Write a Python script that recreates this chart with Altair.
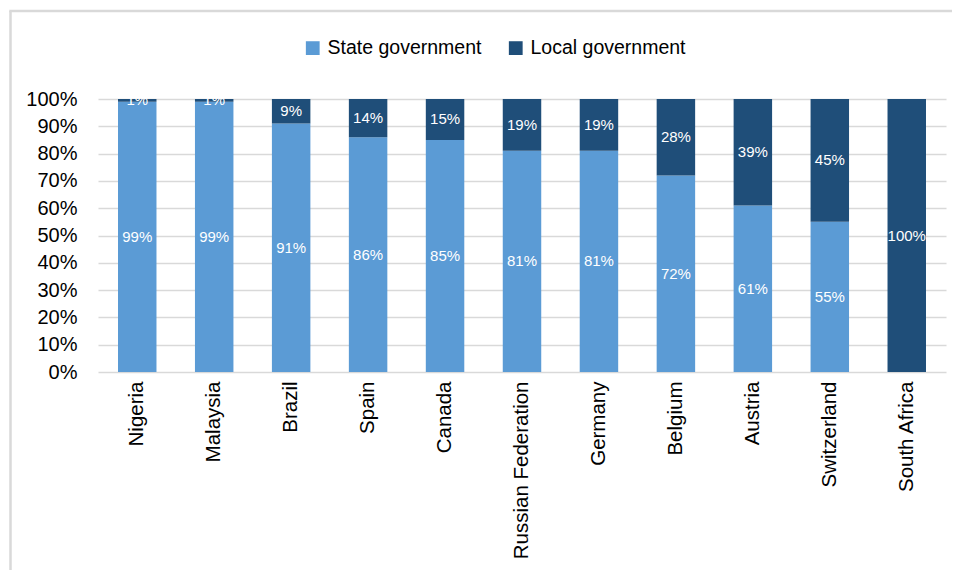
import altair as alt
import pandas as pd

countries = ["Nigeria", "Malaysia", "Brazil", "Spain", "Canada", "Russian Federation",
             "Germany", "Belgium", "Austria", "Switzerland", "South Africa"]
state_pct = [99, 99, 91, 86, 85, 81, 81, 72, 61, 55, 0]
local_pct = [1, 1, 9, 14, 15, 19, 19, 28, 39, 45, 100]
series = ["State government", "Local government"]
colors = ["#5B9BD5", "#1F4E79"]
y_ticks = [0, 10, 20, 30, 40, 50, 60, 70, 80, 90, 100]

rows = []
for c, s, l in zip(countries, state_pct, local_pct):
    rows.append({"country": c, "series": series[0], "value": s, "ord": 0})
    rows.append({"country": c, "series": series[1], "value": l, "ord": 1})
df = pd.DataFrame(rows)

FONT = "Liberation Sans"

xaxis = alt.Axis(labelAngle=-90, labelFontSize=20.5, labelColor="#000000",
                 labelFont=FONT, ticks=False, domain=False, labelPadding=9,
                 labelOverlap=False)
xscale = alt.Scale(paddingInner=0.5, paddingOuter=0.26)
yaxis = alt.Axis(values=y_ticks, labelExpr="datum.value + '%'",
                 labelFontSize=20, labelFont=FONT, labelColor="#000000",
                 ticks=False, domain=False, labelPadding=21,
                 labelOverlap=False,
                 gridColor="#D9D9D9", gridWidth=1.7)
yscale = alt.Scale(domain=[0, 100], nice=False)

base = alt.Chart(df).transform_stack(
    stack="value", groupby=["country"], as_=["y0", "y1"],
    sort=[alt.SortField("ord", order="ascending")]
).transform_calculate(mid="(datum.y0 + datum.y1) / 2")

bars = base.mark_bar().encode(
    x=alt.X("country:N", sort=countries, title=None, scale=xscale, axis=xaxis),
    y=alt.Y("y0:Q", title=None, scale=yscale, axis=yaxis),
    y2="y1:Q",
    color=alt.Color("series:N", scale=alt.Scale(domain=series, range=colors),
                    title=None,
                    legend=alt.Legend(orient="none", direction="horizontal",
                                      legendX=205, legendY=-61, padding=0,
                                      symbolType="square", symbolSize=190,
                                      symbolStrokeWidth=0, labelFontSize=19.5,
                                      labelFont=FONT, labelColor="#000000",
                                      labelOffset=5, columnPadding=24)),
)

labels = base.transform_filter("datum.value > 0").mark_text(
    color="white", fontSize=15, font=FONT, baseline="middle"
).encode(
    x=alt.X("country:N", sort=countries, title=None, scale=xscale, axis=xaxis),
    y=alt.Y("mid:Q", title=None, scale=yscale, axis=yaxis),
    text=alt.Text("lbl:N"),
).transform_calculate(lbl="datum.value + '%'")

frame_v = alt.Chart(pd.DataFrame({"a": [0]})).mark_rule(
    color="#D9D9D9", strokeWidth=2.5).encode(
    x=alt.value(-87.5), y=alt.value(-88), y2=alt.value(480))
frame_h = alt.Chart(pd.DataFrame({"a": [0]})).mark_rule(
    color="#D9D9D9", strokeWidth=2.5).encode(
    x=alt.value(-88.7), x2=alt.value(860), y=alt.value(-88))

chart = alt.layer(bars, labels, frame_v, frame_h).properties(
    width=848, height=273,
    padding={"left": 90, "top": 91, "right": 6, "bottom": 198},
    autosize=alt.AutoSizeParams(type="none"),
    background="white",
).configure_view(stroke=None)

chart.save("out.html", embed_options={"renderer": "svg", "actions": False})
